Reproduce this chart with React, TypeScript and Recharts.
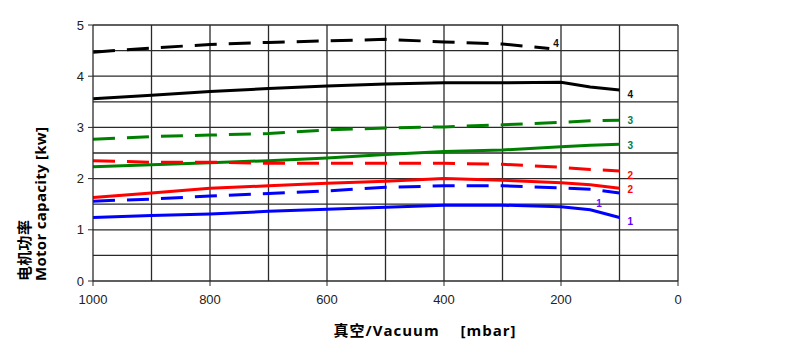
import { LineChart, Line, XAxis, YAxis, CartesianGrid, ReferenceLine } from 'recharts';

const INK = '#000';
const GRID = '#2a2a2a';
const FONT = '"Liberation Sans", Arial, sans-serif';
const TITLE_FONT = '"Open Sans", "Noto Sans CJK SC", sans-serif';

// vacuum [mbar] sample points
const xs = [1000, 900, 800, 700, 600, 500, 400, 300, 200, 150, 100];
const xs4d = [1000, 900, 800, 700, 600, 500, 400, 300, 220];

const m4dash = [4.47, 4.55, 4.62, 4.66, 4.69, 4.72, 4.67, 4.63, 4.54];
const m4 = [3.56, 3.63, 3.70, 3.76, 3.81, 3.85, 3.87, 3.87, 3.88, 3.79, 3.73];
const m3dash = [2.77, 2.82, 2.85, 2.88, 2.95, 2.99, 3.01, 3.05, 3.10, 3.13, 3.14];
const m3 = [2.23, 2.27, 2.31, 2.35, 2.40, 2.47, 2.53, 2.56, 2.62, 2.65, 2.67];
const m2dash = [2.35, 2.32, 2.32, 2.30, 2.30, 2.30, 2.30, 2.28, 2.22, 2.18, 2.15];
const m2 = [1.63, 1.72, 1.81, 1.86, 1.91, 1.95, 2.00, 1.97, 1.92, 1.88, 1.81];
const m1dash = [1.56, 1.60, 1.66, 1.71, 1.76, 1.83, 1.86, 1.86, 1.82, 1.79, 1.72];
const m1 = [1.24, 1.28, 1.31, 1.36, 1.40, 1.44, 1.48, 1.48, 1.45, 1.39, 1.24];

const xTicks = [1000, 800, 600, 400, 200, 0];
const yTicks = [0, 1, 2, 3, 4, 5];
const xGrid = [900, 800, 700, 600, 500, 400, 300, 200, 100, 0];
const yGrid = [0.5, 1, 1.5, 2, 2.5, 3, 3.5, 4, 4.5, 5];

const pts = (x: number[], y: number[]) => x.map((v, i) => ({ x: v, y: y[i] }));

type S = { name: string; x: number[]; y: number[]; color: string; dash?: boolean; label: string; lc: string; at?: number; dx: number; dy: number };
const series: S[] = [
  { name: '4d', x: xs4d, y: m4dash, color: INK, dash: true, label: '4', lc: '#111', dx: 4, dy: -6 },
  { name: '4', x: xs, y: m4, color: INK, label: '4', lc: '#111', dx: 8, dy: 4 },
  { name: '3d', x: xs, y: m3dash, color: '#008000', dash: true, label: '3', lc: '#007a50', dx: 8, dy: 0 },
  { name: '3', x: xs, y: m3, color: '#008000', label: '3', lc: '#007a50', dx: 8, dy: 1 },
  { name: '2d', x: xs, y: m2dash, color: '#ff0000', dash: true, label: '2', lc: '#ff0000', dx: 8, dy: 4 },
  { name: '2', x: xs, y: m2, color: '#ff0000', label: '2', lc: '#ff0000', dx: 8, dy: 1 },
  { name: '1d', x: xs, y: m1dash, color: '#0000ff', dash: true, label: '1', lc: '#7a00ff', at: 9, dx: 6, dy: 14 },
  { name: '1', x: xs, y: m1, color: '#0000ff', label: '1', lc: '#5a00ff', dx: 8, dy: 3 },
];

function endLabel(s: S) {
  const at = s.at ?? s.x.length - 1;
  return (p: any) => {
    if (p.index !== at) return null;
    return (
      <text x={p.x + s.dx} y={p.y + s.dy + 4} fontSize={10} fontWeight="bold" fontFamily={FONT} fill={s.lc}>
        {s.label}
      </text>
    );
  };
}

function YTitle(p: any) {
  const vb = p.viewBox;
  const bottom = vb.y + vb.height;
  return (
    <g fontFamily={TITLE_FONT} fontWeight="bold" fontSize={15} fill={INK} letterSpacing={0.3}>
      <text transform={`translate(30, ${bottom}) rotate(-90)`} textAnchor="start">电机功率</text>
      <text transform={`translate(46, ${bottom}) rotate(-90)`} textAnchor="start">Motor capacity [kw]</text>
    </g>
  );
}

function XTitle(p: any) {
  const vb = p.viewBox;
  const cx = vb.x + vb.width / 2;
  return (
    <g fontFamily={TITLE_FONT} fontWeight="bold" fontSize={15} fill={INK} letterSpacing={1}>
      <text x={cx - 52} y={336} textAnchor="start">真空/Vacuum</text>
      <text x={cx + 131} y={336} textAnchor="end">[mbar]</text>
    </g>
  );
}

export default function App() {
  return (
    <div style={{ position: 'absolute', left: 0, top: 0, width: 799, height: 356, background: '#fff' }}>
      <LineChart width={799} height={356} margin={{ top: 25, right: 121, bottom: 45, left: 53 }}>
        <CartesianGrid stroke={GRID} strokeWidth={1.3} horizontal={false} vertical={false} />
        {xGrid.map((v) => <ReferenceLine key={'gx' + v} x={v} stroke={GRID} strokeWidth={1.3} />)}
        {yGrid.map((v) => <ReferenceLine key={'gy' + v} y={v} stroke={GRID} strokeWidth={1.3} />)}
        <XAxis type="number" dataKey="x" domain={[0, 1000]} reversed ticks={xTicks} interval={0}
          tick={{ fontSize: 13, fontFamily: FONT, fill: '#222' }} tickSize={5} tickMargin={9}
          axisLine={{ stroke: GRID, strokeWidth: 1.3 }} tickLine={{ stroke: GRID }} height={30}
          label={<XTitle />} />
        <YAxis type="number" dataKey="y" domain={[0, 5]} ticks={yTicks} interval={0} width={40}
          tick={{ fontSize: 13, fontFamily: FONT, fill: '#222' }} tickSize={5} tickMargin={4}
          axisLine={{ stroke: GRID, strokeWidth: 1.3 }} tickLine={{ stroke: GRID }}
          label={<YTitle />} />
        {series.map((s) => (
          <Line key={s.name} data={pts(s.x, s.y)} dataKey="y" type="linear" stroke={s.color} strokeWidth={3}
            strokeDasharray={s.dash ? '22 12' : undefined} dot={false} activeDot={false}
            isAnimationActive={false} label={endLabel(s)} />
        ))}
      </LineChart>
    </div>
  );
}
